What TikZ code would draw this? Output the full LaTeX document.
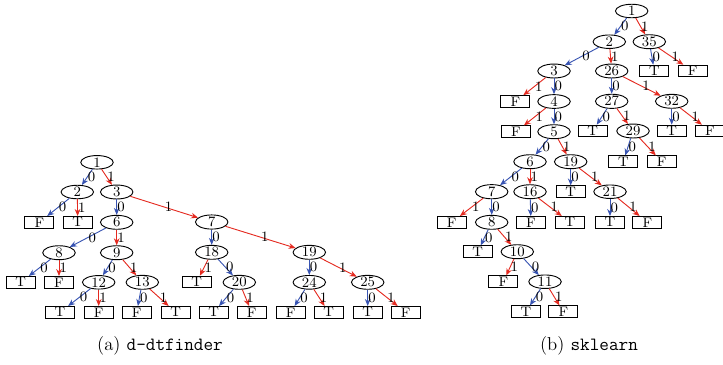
\documentclass[tikz,border=0pt]{standalone}
\usetikzlibrary{shapes.geometric,arrows.meta}
\definecolor{zblue}{RGB}{56,84,178}
\definecolor{ored}{RGB}{228,42,32}
\tikzset{
  inn/.style={draw,ellipse,inner sep=0pt,minimum width=19.5pt,minimum height=7pt,font=\fontsize{8.6}{10}\selectfont,line width=0.55pt},
  leaf/.style={draw,rectangle,inner sep=0pt,minimum width=17.5pt,minimum height=7pt,font=\fontsize{8.3}{10}\selectfont,line width=0.55pt},
  zero/.style={draw=zblue,line width=0.55pt,-{Stealth[length=4.2pt,width=3.4pt]}},
  one/.style={draw=ored,line width=0.55pt,-{Stealth[length=4.2pt,width=3.4pt]}},
  lab/.style={midway,inner sep=0pt,font=\fontsize{8.6}{10}\selectfont,text=black,xshift=2.6pt},
  captext/.style={inner sep=0pt,font=\fontsize{11.2}{13}\selectfont}
}
\begin{document}
\begin{tikzpicture}[x=0.6pt,y=-0.6pt]
\useasboundingbox (0,0) rectangle (723,364);
% ---------- left tree ----------
\node[inn] (a1) at (97,162.3) {1};
\node[inn] (a2) at (77.3,192) {2};
\node[inn] (a3) at (116.7,192) {3};
\node[leaf] (a2F) at (39.3,222.3) {F};
\node[leaf] (a2T) at (77.7,222.3) {T};
\node[inn] (a6) at (116.7,222.3) {6};
\node[inn] (a7) at (211.7,222) {7};
\node[inn] (a8) at (59,252.7) {8};
\node[inn] (a9) at (116.7,252.7) {9};
\node[inn] (a18) at (211.7,252.3) {18};
\node[inn] (a19) at (309.3,252.3) {19};
\node[leaf] (a8T) at (20.7,282.3) {T};
\node[leaf] (a8F) at (59,282.3) {F};
\node[inn] (a12) at (98.7,282.3) {12};
\node[inn] (a13) at (142.3,282.3) {13};
\node[leaf] (a18T) at (196.7,282) {T};
\node[inn] (a20) at (239.3,282.3) {20};
\node[inn] (a24) at (309.3,282.3) {24};
\node[inn] (a25) at (367.7,282.3) {25};
\node[leaf] (a12T) at (60,312.3) {T};
\node[leaf] (a12F) at (98.7,312.3) {F};
\node[leaf] (a13F) at (136.7,312.3) {F};
\node[leaf] (a13T) at (175.7,312.3) {T};
\node[leaf] (a20T) at (213.7,312.3) {T};
\node[leaf] (a20F) at (251.7,312.3) {F};
\node[leaf] (a24F) at (290.7,312.3) {F};
\node[leaf] (a24T) at (328.7,312.3) {T};
\node[leaf] (a25T) at (367.7,312.3) {T};
\node[leaf] (a25F) at (405.7,312.3) {F};
\draw[zero] (a1) -- node[lab]{0} (a2);
\draw[one] (a1) -- node[lab]{1} (a3);
\draw[zero] (a2) -- node[lab]{0} (a2F);
\draw[one] (a2) -- node[lab]{1} (a2T);
\draw[zero] (a3) -- node[lab]{0} (a6);
\draw[one] (a3) -- node[lab]{1} (a7);
\draw[zero] (a6) -- node[lab]{0} (a8);
\draw[one] (a6) -- node[lab]{1} (a9);
\draw[zero] (a8) -- node[lab]{0} (a8T);
\draw[one] (a8) -- node[lab]{1} (a8F);
\draw[zero] (a9) -- node[lab]{0} (a12);
\draw[one] (a9) -- node[lab]{1} (a13);
\draw[zero] (a12) -- node[lab]{0} (a12T);
\draw[one] (a12) -- node[lab]{1} (a12F);
\draw[zero] (a13) -- node[lab]{0} (a13F);
\draw[one] (a13) -- node[lab]{1} (a13T);
\draw[zero] (a7) -- node[lab]{0} (a18);
\draw[one] (a7) -- node[lab]{1} (a19);
\draw[one] (a18) -- node[lab]{1} (a18T);
\draw[zero] (a18) -- node[lab]{0} (a20);
\draw[zero] (a20) -- node[lab]{0} (a20T);
\draw[one] (a20) -- node[lab]{1} (a20F);
\draw[zero] (a19) -- node[lab]{0} (a24);
\draw[one] (a19) -- node[lab]{1} (a25);
\draw[zero] (a24) -- node[lab]{0} (a24F);
\draw[one] (a24) -- node[lab]{1} (a24T);
\draw[zero] (a25) -- node[lab]{0} (a25T);
\draw[one] (a25) -- node[lab]{1} (a25F);
% ---------- right tree ----------
\node[inn] (b1) at (631.7,11) {1};
\node[inn] (b2) at (609.3,41.7) {2};
\node[inn] (b35) at (649.3,41.7) {35};
\node[inn] (b3) at (554,71) {3};
\node[inn] (b26) at (611.7,71) {26};
\node[leaf] (b35T) at (654.3,71) {T};
\node[leaf] (b35F) at (692.7,71) {F};
\node[leaf] (b3F) at (515.3,101.5) {F};
\node[inn] (b4) at (554,101.5) {4};
\node[inn] (b27) at (611.7,101.3) {27};
\node[inn] (b32) at (671.7,101.3) {32};
\node[leaf] (b4F) at (516,131.7) {F};
\node[inn] (b5) at (554,131.7) {5};
\node[leaf] (b27T) at (592.7,131) {T};
\node[inn] (b29) at (633,131) {29};
\node[leaf] (b32T) at (671.7,131) {T};
\node[leaf] (b32F) at (710,131) {F};
\node[inn] (b6) at (530,161.7) {6};
\node[inn] (b19) at (570.7,161.7) {19};
\node[leaf] (b29T) at (623.3,161.7) {T};
\node[leaf] (b29F) at (661.7,161.7) {F};
\node[inn] (b7) at (491.7,191.7) {7};
\node[inn] (b16) at (530,191.7) {16};
\node[leaf] (b19T) at (570.7,191.7) {T};
\node[inn] (b21) at (610,191.7) {21};
\node[leaf] (b7F) at (451.7,222.3) {F};
\node[inn] (b8) at (491.7,222.3) {8};
\node[leaf] (b16F) at (531,222.3) {F};
\node[leaf] (b16T) at (570,222.3) {T};
\node[leaf] (b21T) at (610,222.3) {T};
\node[leaf] (b21F) at (647.3,222.3) {F};
\node[leaf] (b8T) at (477.7,251.7) {T};
\node[inn] (b10) at (517.3,251.7) {10};
\node[leaf] (b10F) at (503.3,281.7) {F};
\node[inn] (b11) at (545,281.7) {11};
\node[leaf] (b11T) at (526,311.7) {T};
\node[leaf] (b11F) at (563.3,311.7) {F};
\draw[zero] (b1) -- node[lab]{0} (b2);
\draw[one] (b1) -- node[lab]{1} (b35);
\draw[zero] (b35) -- node[lab]{0} (b35T);
\draw[one] (b35) -- node[lab]{1} (b35F);
\draw[zero] (b2) -- node[lab]{0} (b3);
\draw[one] (b2) -- node[lab]{1} (b26);
\draw[zero] (b3) -- node[lab]{0} (b4);
\draw[one] (b3) -- node[lab]{1} (b3F);
\draw[zero] (b4) -- node[lab]{0} (b5);
\draw[one] (b4) -- node[lab]{1} (b4F);
\draw[zero] (b26) -- node[lab]{0} (b27);
\draw[one] (b26) -- node[lab]{1} (b32);
\draw[zero] (b27) -- node[lab]{0} (b27T);
\draw[one] (b27) -- node[lab]{1} (b29);
\draw[zero] (b32) -- node[lab]{0} (b32T);
\draw[one] (b32) -- node[lab]{1} (b32F);
\draw[zero] (b29) -- node[lab]{0} (b29T);
\draw[one] (b29) -- node[lab]{1} (b29F);
\draw[zero] (b5) -- node[lab]{0} (b6);
\draw[one] (b5) -- node[lab]{1} (b19);
\draw[zero] (b6) -- node[lab]{0} (b7);
\draw[one] (b6) -- node[lab]{1} (b16);
\draw[zero] (b19) -- node[lab]{0} (b19T);
\draw[one] (b19) -- node[lab]{1} (b21);
\draw[zero] (b7) -- node[lab]{0} (b8);
\draw[one] (b7) -- node[lab]{1} (b7F);
\draw[zero] (b16) -- node[lab]{0} (b16F);
\draw[one] (b16) -- node[lab]{1} (b16T);
\draw[zero] (b21) -- node[lab]{0} (b21T);
\draw[one] (b21) -- node[lab]{1} (b21F);
\draw[zero] (b8) -- node[lab]{0} (b8T);
\draw[one] (b8) -- node[lab]{1} (b10);
\draw[zero] (b10) -- node[lab]{0} (b11);
\draw[one] (b10) -- node[lab]{1} (b10F);
\draw[zero] (b11) -- node[lab]{0} (b11T);
\draw[one] (b11) -- node[lab]{1} (b11F);
% ---------- captions ----------
\node[captext] (capa) at (160,346) {(a) \texttt{d-dtfinder}};
\node[captext] (capb) at (589,346) {(b) \texttt{sklearn}};
\end{tikzpicture}
\end{document}
